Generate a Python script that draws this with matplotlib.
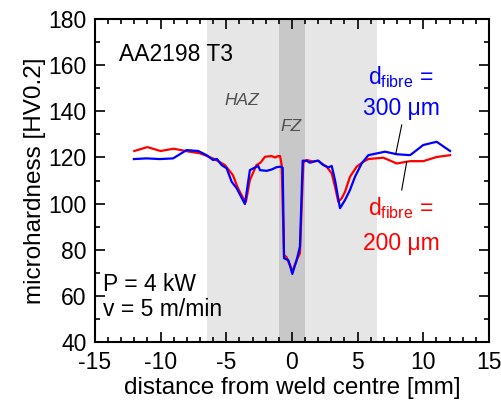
import matplotlib
matplotlib.use("Agg")
import matplotlib.pyplot as plt
from matplotlib.ticker import MultipleLocator

plt.rcParams['font.family'] = ['Liberation Sans', 'DejaVu Sans']
plt.rcParams['mathtext.default'] = 'regular'
plt.rcParams['axes.unicode_minus'] = False

# hardness profile, d_fibre = 200 um (red)
x_200 = [-12.0, -11.0, -10.0, -9.0, -8.1, -7.0, -6.5, -5.9, -5.1, -4.5, -4.1, -3.7, -3.5,
         -3.2, -2.7, -2.4, -2.05, -1.54, -1.29, -1.04, -0.9, -0.78, -0.6, -0.4, 0.03, 0.36,
         0.61, 0.87, 1.12, 1.63, 2.0, 2.26, 2.64, 3.03, 3.28, 3.53, 3.79, 4.04, 4.42, 4.93,
         5.44, 5.82, 6.96, 7.98, 9.0, 10.0, 11.02, 12.04]
hv_200 = [122.8, 124.5, 122.8, 123.8, 122.8, 121.8, 120.7, 119.3, 116.7, 112.4, 106.6, 102.3, 100.8,
          110.2, 116.7, 117.7, 120.3, 120.6, 120.0, 120.6, 120.6, 116.7, 77.7, 76.7, 70.5, 75.5,
          78.4, 117.8, 118.9, 118.2, 118.6, 117.4, 116.0, 113.1, 107.3, 100.8, 102.3, 105.1, 111.6, 116.0,
          118.2, 119.3, 119.9, 117.4, 118.4, 118.4, 120.2, 121.0]

# hardness profile, d_fibre = 300 um (blue)
x_300 = [-12.03, -11.06, -10.05, -9.04, -8.02, -7.13, -6.5, -6.0, -5.7, -5.35, -4.97, -4.59, -4.2,
         -3.58, -3.2, -2.94, -2.56, -2.43, -1.92, -1.54, -1.16, -0.86, -0.7, -0.6, -0.28, -0.15,
         0.03, 0.36, 0.61, 0.82, 1.12, 1.37, 1.75, 2.0, 2.39, 2.77, 3.03, 3.28, 3.66, 4.04, 4.42,
         4.8, 5.31, 5.82, 7.09, 7.98, 9.0, 10.0, 11.02, 12.04]
hv_300 = [119.3, 119.6, 119.3, 119.6, 123.2, 122.8, 121.0, 118.9, 119.3, 116.7, 115.3, 109.5, 106.6,
          99.8, 114.5, 115.3, 116.3, 114.5, 114.2, 114.8, 115.8, 116.0, 115.5, 76.3, 75.5, 73.4,
          69.5, 75.5, 81.3, 118.6, 118.6, 117.7, 118.4, 118.6, 116.7, 115.7, 116.3, 110.2, 98.0, 101.5, 105.9,
          111.6, 117.4, 121.0, 122.5, 121.4, 121.0, 125.4, 126.8, 122.8]

haz_half = 6.5
fz_half = 1.0

fig = plt.figure(figsize=(5.02, 4.15), dpi=100)
ax = fig.add_axes([0.189, 0.176, 0.785, 0.778])

ax.axvspan(-haz_half, haz_half, color='#e6e6e6', lw=0, zorder=0)
ax.axvspan(-fz_half, fz_half, color='#c8c8c8', lw=0, zorder=0)

ax.plot(x_200, hv_200, color='#ff0000', lw=1.6, zorder=2)
ax.plot(x_300, hv_300, color='#0000ff', lw=1.6, zorder=3)

# leader lines to the curves
ax.plot([8.36, 7.92], [134.1, 121.9], color='black', lw=0.8, zorder=4)
ax.plot([8.74, 8.36], [118.1, 105.9], color='black', lw=0.8, zorder=4)

ax.set_xlim(-15, 15)
ax.set_ylim(40, 180)
ax.xaxis.set_major_locator(MultipleLocator(5))
ax.xaxis.set_minor_locator(MultipleLocator(1))
ax.yaxis.set_major_locator(MultipleLocator(20))
ax.yaxis.set_minor_locator(MultipleLocator(10))
ax.tick_params(which='both', direction='in', top=True, right=True, width=1.2, labelsize=16.5)
ax.tick_params(which='major', length=7)
ax.tick_params(which='minor', length=3.5)
ax.tick_params(axis='x', which='major', pad=6.5)
ax.tick_params(axis='y', which='major', pad=6)
for s in ax.spines.values():
    s.set_linewidth(1.5)

ax.set_xlabel('distance from weld centre [mm]', fontsize=17.5, labelpad=2)
ax.set_ylabel('microhardness [HV0.2]', fontsize=17.5, labelpad=2)

ax.text(-13.2, 164.8, 'AA2198 T3', fontsize=16.5, va='center', ha='left')
ax.text(-14.4, 64.7, 'P = 4 kW', fontsize=16.5, va='center', ha='left')
ax.text(-14.4, 53.9, 'v = 5 m/min', fontsize=16.5, va='center', ha='left')
ax.text(-3.8, 144.9, 'HAZ', fontsize=12.5, style='italic', color='#505050', ha='center', va='center')
ax.text(-0.1, 133.6, 'FZ', fontsize=12.5, style='italic', color='#505050', ha='center', va='center')

ax.text(8.3, 154.9, 'd$_{fibre}$ =', fontsize=16.5, color='#0000ff', ha='center', va='center')
ax.text(8.3, 141.4, '300 μm', fontsize=16.5, color='#0000ff', ha='center', va='center')
ax.text(8.3, 98.1, 'd$_{fibre}$ =', fontsize=16.5, color='#ff0000', ha='center', va='center')
ax.text(8.3, 82.9, '200 μm', fontsize=16.5, color='#ff0000', ha='center', va='center')

fig.savefig('out.png', dpi=100)
